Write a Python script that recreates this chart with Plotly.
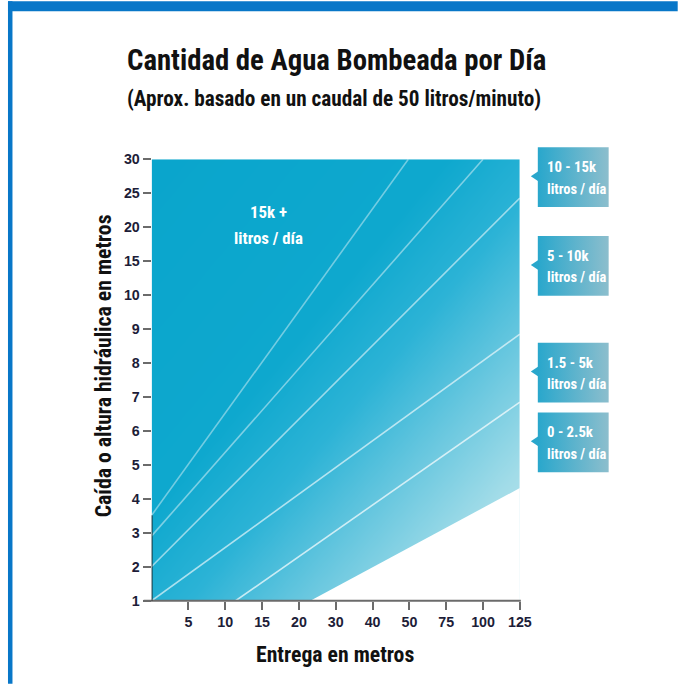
import numpy as np
import plotly.graph_objects as go

W, H = 683, 685

# ---- data ----
x_tick_labels = ["5", "10", "15", "20", "30", "40", "50", "75", "100", "125"]
y_tick_labels = ["1", "2", "3", "4", "5", "6", "7", "8", "9", "10", "15", "20", "25", "30"]

# white boundary lines between flow bands (category-index coordinates)
band_lines_x = [[0, 6.97], [0, 9.0], [0, 10], [0, 10], [2.28, 10]]
band_lines_y = [[2.52, 13], [1.91, 13], [1.01, 11.86], [0, 7.85], [0, 5.85]]
band_line_alpha = [0.42, 0.45, 0.55, 0.62, 0.7]
# lower edge of the coloured area
edge_x = [4.31, 10]
edge_y = [0, 3.32]

band_labels = ["10 - 15k", "5 - 10k", "1.5 - 5k", "0 - 2.5k"]
band_sub = "litros / día"
top_label = ["15k +", "litros / día"]

title = "Cantidad de Agua Bombeada por Día"
subtitle = "(Aprox. basado en un caudal de 50 litros/minuto)"
x_title = "Entrega en metros"
y_title = "Caída o altura hidráulica en metros"

# ---- layout helpers ----
# the page is photographed slightly scaled; these map target-pixel positions
# into figure-pixel positions
SX, OX = 0.9846, -1.0
SY, OY = 0.980, 6.2

def X(r):
    return (r - OX) / SX

def Y(r):
    return (r - OY) / SY

def px(r):
    return X(r) / W

def py(r):
    return 1 - Y(r) / H

def fs(s):
    return s / SY

PL, PR, PT, PB = 151, 520, 158, 601
XMAX = len(x_tick_labels)
YMAX = len(y_tick_labels) - 1

FONT_C = "Roboto Condensed, DejaVu Sans Condensed, Liberation Sans Narrow, Roboto, sans-serif"
FONT_A = "Liberation Sans, Arial, sans-serif"

fig = go.Figure()

# gradient background (styling only)
gx = np.linspace(0, XMAX, 60)
gy = np.linspace(0, YMAX, 60)
GX, GY = np.meshgrid(gx, gy)
T = (GX / XMAX + (YMAX - GY) / YMAX) / 2
fig.add_trace(go.Heatmap(
    x=gx, y=gy, z=T, zsmooth="best", showscale=False, hoverinfo="skip",
    zmin=0, zmax=1,
    colorscale=[[0, "#0aa5cc"], [0.4, "#0ea8ce"], [0.55, "#2cb3d6"],
                [0.7, "#68c7df"], [0.85, "#a2dce8"], [1, "#c6eaf1"]],
))

# white mask below lower edge
fig.add_trace(go.Scatter(
    x=[edge_x[0], edge_x[1], edge_x[1], edge_x[0]],
    y=[edge_y[0], edge_y[1], -1, -1],
    fill="toself", fillcolor="white", mode="lines", line=dict(width=0),
    hoverinfo="skip", showlegend=False,
))

for lx, ly, a in zip(band_lines_x, band_lines_y, band_line_alpha):
    fig.add_trace(go.Scatter(
        x=lx, y=ly, mode="lines",
        line=dict(color=f"rgba(255,255,255,{a})", width=1.6),
        hoverinfo="skip", showlegend=False,
    ))

# label boxes (gradient) on a full-page pixel subplot
box_tops = [146, 235, 342, 412]
box_h = 60
for bt in box_tops:
    fig.add_trace(go.Scatter(
        x=[538, 609, 609, 538, 538], y=[bt, bt, bt + box_h, bt + box_h, bt],
        xaxis="x2", yaxis="y2", mode="lines", fill="toself",
        line=dict(width=0),
        fillgradient=dict(type="horizontal",
                          colorscale=[[0, "#29a7cc"], [1, "#8cbecd"]]),
        hoverinfo="skip", showlegend=False,
    ))
    mid = bt + 29
    fig.add_trace(go.Scatter(
        x=[531, 538.5, 538.5, 531], y=[mid, mid - 5, mid + 5, mid],
        xaxis="x2", yaxis="y2", mode="lines", fill="toself",
        fillcolor="#29a7cc", line=dict(width=0),
        hoverinfo="skip", showlegend=False,
    ))

shapes = [
    # frame
    dict(type="rect", xref="paper", yref="paper", x0=px(7), x1=px(11.5), y0=-0.01, y1=1.01,
         fillcolor="#0877c8", line=dict(width=0)),
    dict(type="rect", xref="paper", yref="paper", x0=px(7), x1=1.01, y0=py(9.5), y1=1.01,
         fillcolor="#0877c8", line=dict(width=0)),
    # x axis line
    dict(type="line", xref="paper", yref="paper", x0=px(143), x1=px(PR + 1), y0=py(PB), y1=py(PB),
         line=dict(color="#6b6b6b", width=2)),
    # dark y-axis stub
    dict(type="line", xref="x", yref="y", x0=0, x1=0, y0=0, y1=band_lines_y[0][0],
         line=dict(color="#1a1a1a", width=1.6)),
]

def ann(text, x, y, size, color="#111", angle=0, xanchor="center"):
    return dict(text=text, x=px(x), y=py(y), xref="paper", yref="paper", showarrow=False,
                textangle=angle, xanchor=xanchor, yanchor="middle",
                font=dict(family=FONT_C, size=fs(size), color=color, weight="bold"))

annotations = [
    ann(title, 336, 58, 28.2),
    ann(subtitle, 334, 97, 20.8),
    ann(x_title, 335, 655, 21.3),
    ann(y_title, 103, 365, 21.3, angle=-90),
    ann(top_label[0], 268, 211, 16.5, color="white"),
    ann(top_label[1], 268, 237, 16.5, color="white"),
]
for bt, lab in zip(box_tops, band_labels):
    annotations.append(ann(lab, 545, bt + 20, 14.5, color="white", xanchor="left"))
    annotations.append(ann(band_sub, 545, bt + 42, 14.2, color="white", xanchor="left"))

tick_font = dict(family=FONT_A, size=fs(14), color="#1d1d38", weight="bold")

fig.update_layout(
    width=W, height=H,
    margin=dict(l=0, r=0, t=0, b=0),
    paper_bgcolor="white", plot_bgcolor="rgba(0,0,0,0)",
    showlegend=False,
    xaxis=dict(domain=[px(PL), px(PR)], range=[0, XMAX],
               tickvals=list(range(1, XMAX + 1)), ticktext=x_tick_labels,
               ticks="outside", ticklen=8, tickwidth=2, tickcolor="#6b6b6b",
               showgrid=False, zeroline=False, showline=False,
               tickfont=tick_font, fixedrange=True),
    yaxis=dict(domain=[py(PB), py(PT)], range=[0, YMAX],
               tickvals=list(range(0, YMAX + 1)), ticktext=y_tick_labels,
               ticks="outside", ticklen=8, tickwidth=2, tickcolor="#6b6b6b",
               showgrid=False, zeroline=False, showline=False,
               tickfont=tick_font, fixedrange=True),
    xaxis2=dict(domain=[0, 1], range=[0 * SX + OX, W * SX + OX], visible=False,
                anchor="y2", fixedrange=True),
    yaxis2=dict(domain=[0, 1], range=[H * SY + OY, 0 * SY + OY], visible=False,
                anchor="x2", fixedrange=True),
    shapes=shapes,
    annotations=annotations,
)

fig.write_html(
    "out.html",
    config={"displayModeBar": False},
    post_script="document.body.style.margin='0';document.body.style.overflow='hidden';",
)
